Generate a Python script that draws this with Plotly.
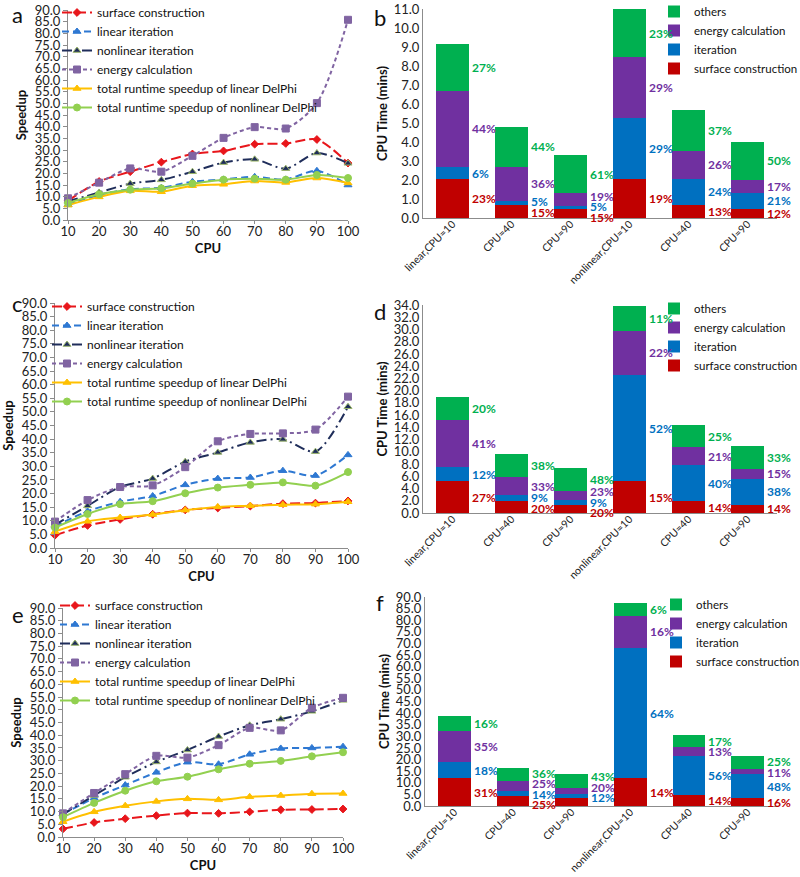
import plotly.graph_objects as go

W, H = 800, 877
FONT = "Lato"

# ---------------- data ----------------
cpu = [10, 20, 30, 40, 50, 60, 70, 80, 90, 100]
line_names = ["surface construction", "linear iteration", "nonlinear iteration",
              "energy calculation", "total runtime speedup of linear DelPhi",
              "total runtime speedup of nonlinear DelPhi"]

a_surface = [8.2, 16.5, 20.7, 24.8, 28.3, 29.6, 32.5, 32.8, 34.5, 24.4]
a_lin_iter = [6.5, 10.8, 13.2, 13.8, 16.4, 17.4, 18.5, 17.4, 21.1, 15.0]
a_nonlin_iter = [8.0, 11.8, 15.6, 17.2, 20.7, 24.6, 26.0, 22.0, 28.7, 24.3]
a_energy = [9.3, 16.0, 22.1, 20.7, 27.5, 35.2, 39.8, 39.2, 50.1, 85.8]
a_total_lin = [6.4, 9.9, 12.5, 12.1, 14.7, 15.3, 16.7, 16.1, 18.0, 15.9]
a_total_nonlin = [7.3, 11.0, 13.0, 13.6, 15.6, 17.3, 17.7, 17.3, 19.3, 18.0]

c_surface = [4.7, 8.3, 10.5, 12.4, 14.0, 14.7, 15.4, 16.3, 16.5, 17.3]
c_lin_iter = [8.0, 13.5, 17.0, 19.1, 23.2, 25.5, 25.9, 28.4, 26.6, 34.2]
c_nonlin_iter = [8.5, 15.5, 22.4, 25.5, 31.7, 35.1, 38.8, 39.9, 35.4, 51.9]
c_energy = [9.7, 17.6, 22.4, 23.0, 29.7, 39.2, 41.9, 42.1, 43.5, 55.6]
c_total_lin = [6.0, 9.8, 11.2, 12.3, 13.9, 15.1, 15.5, 15.9, 16.1, 17.0]
c_total_nonlin = [7.5, 12.5, 16.1, 17.2, 20.1, 22.2, 23.2, 24.1, 22.9, 27.9]

e_surface = [3.2, 5.7, 7.2, 8.4, 9.4, 9.3, 9.9, 10.7, 10.8, 11.0]
e_lin_iter = [9.0, 15.3, 20.4, 25.4, 29.4, 28.6, 32.5, 34.8, 35.0, 35.5]
e_nonlin_iter = [9.0, 16.3, 23.5, 29.5, 34.2, 39.5, 43.9, 46.3, 49.4, 53.7]
e_energy = [9.3, 17.3, 24.7, 31.9, 31.2, 36.1, 42.9, 41.9, 50.8, 54.7]
e_total_lin = [6.0, 9.9, 12.3, 14.0, 15.0, 14.6, 15.8, 16.3, 17.0, 17.1]
e_total_nonlin = [7.8, 13.4, 18.2, 21.9, 23.7, 26.6, 28.8, 29.9, 31.7, 33.3]

bar_categories = ["linear,CPU=10", "CPU=40", "CPU=90", "nonlinear,CPU=10", "CPU=40", "CPU=90"]
bar_names = ["surface construction", "iteration", "energy calculation", "others"]

b_surface = [2.07, 0.68, 0.47, 2.07, 0.67, 0.49]
b_iteration = [0.59, 0.23, 0.18, 3.18, 1.40, 0.82]
b_energy = [4.05, 1.77, 0.65, 3.21, 1.47, 0.69]
b_others = [2.47, 2.12, 1.99, 2.54, 2.13, 2.01]
b_pct_surface = ["23%", "15%", "15%", "19%", "13%", "12%"]
b_pct_iteration = ["6%", "5%", "5%", "29%", "24%", "21%"]
b_pct_energy = ["44%", "36%", "19%", "29%", "26%", "17%"]
b_pct_others = ["27%", "44%", "61%", "23%", "37%", "50%"]

d_surface = [5.17, 1.90, 1.36, 5.17, 1.90, 1.36]
d_iteration = [2.28, 0.98, 0.71, 17.41, 5.88, 4.24]
d_energy = [7.78, 3.05, 1.58, 7.18, 2.94, 1.64]
d_others = [3.81, 3.70, 3.64, 4.03, 3.64, 3.64]
d_pct_surface = ["27%", "20%", "20%", "15%", "14%", "14%"]
d_pct_iteration = ["12%", "9%", "9%", "52%", "40%", "38%"]
d_pct_energy = ["41%", "33%", "23%", "22%", "21%", "15%"]
d_pct_others = ["20%", "38%", "48%", "11%", "25%", "33%"]

f_surface = [11.9, 4.3, 3.3, 11.9, 4.6, 3.4]
f_iteration = [6.9, 2.3, 1.9, 56.3, 16.9, 10.2]
f_energy = [13.5, 4.0, 2.4, 13.8, 3.8, 2.3]
f_others = [6.3, 5.8, 6.0, 5.4, 5.1, 5.5]
f_pct_surface = ["31%", "25%", "25%", "14%", "14%", "16%"]
f_pct_iteration = ["18%", "14%", "12%", "64%", "56%", "48%"]
f_pct_energy = ["35%", "25%", "20%", "16%", "13%", "11%"]
f_pct_others = ["16%", "36%", "43%", "6%", "17%", "25%"]

# ---------------- styles ----------------
line_styles = [
    dict(color="#E8161B", dash="10px,4px", symbol="diamond", size=6, mline="#E8161B"),
    dict(color="#2E78D2", dash="7px,4px", symbol="triangle-up", size=7, mline="#2E78D2"),
    dict(color="#1F2D5A", dash="10px,4px,2px,4px", symbol="triangle-up", size=7, mline="#9BB56A"),
    dict(color="#8064A2", dash="4px,3px", symbol="square", size=7, mline="#8064A2"),
    dict(color="#FFC000", dash="solid", symbol="triangle-up", size=7, mline="#FFC000"),
    dict(color="#92D050", dash="solid", symbol="circle", size=7, mline="#92D050"),
]
bar_colors = ["#C00000", "#0070C0", "#7030A0", "#00B050"]


def px_x(p):
    return p / W


def px_y(p):
    return 1 - p / H


LEG_OFF = 15  # legend top -> first item centre, px

fig = go.Figure()

# panel geometry in page pixels: (x0, x1, ytop, ybottom)
line_panels = [
    ("", [a_surface, a_lin_iter, a_nonlin_iter, a_energy, a_total_lin, a_total_nonlin], (68, 348, 10, 220)),
    ("3", [c_surface, c_lin_iter, c_nonlin_iter, c_energy, c_total_lin, c_total_nonlin], (55, 348, 303, 548)),
    ("5", [e_surface, e_lin_iter, e_nonlin_iter, e_energy, e_total_lin, e_total_nonlin], (63, 343, 608, 837)),
]
line_legends = ["legend", "legend3", "legend5"]
# (legend left, first item centre)
line_legend_pos = [(57, 13), (47, 307), (55, 606)]

axis_font = dict(family=FONT, size=13, color="#222")
title_font = dict(family=FONT, size=13, color="#111", weight="bold")

for (sfx, series, (x0, x1, yt, yb)), lg, (lx, ly) in zip(line_panels, line_legends, line_legend_pos):
    for name, vals, st in zip(line_names, series, line_styles):
        fig.add_trace(go.Scatter(
            x=cpu, y=vals, name=name, mode="lines+markers",
            xaxis="x" + sfx, yaxis="y" + sfx, legend=lg, cliponaxis=False,
            line=dict(color=st["color"], width=2, dash=st["dash"], shape="spline", smoothing=0.8),
            marker=dict(symbol=st["symbol"], size=st["size"], color=st["color"],
                        line=dict(color=st["mline"], width=1)),
        ))
    fig.layout["xaxis" + sfx] = dict(
        domain=[px_x(x0), px_x(x1)], anchor="y" + sfx, range=[10, 100], automargin=False,
        tickvals=cpu, showline=True, linecolor="#8C8C8C", linewidth=1,
        ticks="outside", ticklen=3, tickcolor="#8C8C8C", showgrid=False, zeroline=False,
        ticklabelstandoff=-4,
        tickfont=dict(family=FONT, size=13, color="#222"),
        title=dict(text="CPU", font=title_font, standoff=6),
    )
    fig.layout["yaxis" + sfx] = dict(
        domain=[px_y(yb), px_y(yt)], anchor="x" + sfx, range=[0, 90], dtick=5, automargin=False,
        tickformat=".1f", showline=True, linecolor="#8C8C8C", linewidth=1,
        ticks="outside", ticklen=4, tickcolor="#8C8C8C", showgrid=False, zeroline=False,
        tickfont=axis_font, title=dict(text="Speedup", font=title_font, standoff=5),
    )
    fig.layout[lg] = dict(
        x=px_x(lx), y=px_y(ly - LEG_OFF), xanchor="left", yanchor="top",
        bgcolor="rgba(0,0,0,0)", font=dict(family=FONT, size=12, color="#111"),
        itemwidth=30, traceorder="normal",
    )

bar_panels = [
    ("2", [b_surface, b_iteration, b_energy, b_others],
     [b_pct_surface, b_pct_iteration, b_pct_energy, b_pct_others], (423, 777, 9, 218), 11, 1, (654, 12)),
    ("4", [d_surface, d_iteration, d_energy, d_others],
     [d_pct_surface, d_pct_iteration, d_pct_energy, d_pct_others], (423, 777, 305, 513), 34, 2, (654, 309)),
    ("6", [f_surface, f_iteration, f_energy, f_others],
     [f_pct_surface, f_pct_iteration, f_pct_energy, f_pct_others], (425, 777, 597, 806), 90, 5, (656, 605)),
]
bar_legends = ["legend2", "legend4", "legend6"]
xs = list(range(len(bar_categories)))


def spread(centers, gap):
    ys = list(centers)
    for _ in range(200):
        moved = False
        for j in range(len(ys) - 1):
            if ys[j + 1] - ys[j] < gap - 1e-9:
                m = (ys[j] + ys[j + 1]) / 2
                ys[j] = m - gap / 2
                ys[j + 1] = m + gap / 2
                moved = True
        if not moved:
            break
    return ys


annotations = []
for (sfx, series, pcts, (x0, x1, yt, yb), ymax, dt, (lx, ly)), lg in zip(bar_panels, bar_legends):
    for name, vals, col in zip(bar_names, series, bar_colors):
        fig.add_trace(go.Bar(
            x=xs, y=vals, name=name, xaxis="x" + sfx, yaxis="y" + sfx, legend=lg,
            marker=dict(color=col, line=dict(width=0)), width=0.56,
        ))
    fig.layout["xaxis" + sfx] = dict(
        domain=[px_x(x0), px_x(x1)], anchor="y" + sfx, range=[-0.5, 5.5], automargin=False,
        tickvals=xs, ticktext=bar_categories, tickangle=-45, ticklabelstandoff=-5,
        showline=True, linecolor="#8C8C8C", linewidth=1, ticks="", showgrid=False,
        zeroline=False, tickfont=dict(family=FONT, size=10.5, color="#222"),
    )
    fig.layout["yaxis" + sfx] = dict(
        domain=[px_y(yb), px_y(yt)], anchor="x" + sfx, range=[0, ymax], dtick=dt, automargin=False,
        tickformat=".1f", showline=True, linecolor="#8C8C8C", linewidth=1,
        ticks="", showgrid=False, zeroline=False, tickfont=axis_font,
        title=dict(text="CPU Time (mins)", font=title_font, standoff=3),
    )
    fig.layout[lg] = dict(
        x=px_x(lx), y=px_y(ly - LEG_OFF), xanchor="left", yanchor="top",
        bgcolor="rgba(0,0,0,0)", font=dict(family=FONT, size=11.5, color="#111"),
        itemwidth=30, traceorder="reversed",
    )
    # percentage labels beside each segment, de-overlapped
    units_per_px = ymax / (yb - yt)
    gap = 10.5 * units_per_px
    for i in xs:
        base = 0.0
        centers = []
        for vals in series:
            centers.append(base + vals[i] / 2)
            base += vals[i]
        ys = spread(centers, gap)
        for k, (yv, pct) in enumerate(zip(ys, pcts)):
            annotations.append(dict(
                x=i + 0.28, y=yv, xref="x" + sfx, yref="y" + sfx, text=pct[i],
                showarrow=False, xanchor="left", yanchor="middle", xshift=1,
                font=dict(family=FONT, size=12, color=bar_colors[k], weight="bold"),
            ))

panel_letters = [("a", 10, 15), ("b", 372, 18), ("c", 10, 303), ("d", 372, 312), ("e", 10, 614), ("f", 374, 602)]
for letter, lx, ly in panel_letters:
    annotations.append(dict(
        x=px_x(lx), y=px_y(ly), xref="paper", yref="paper", text=letter, showarrow=False,
        xanchor="left", yanchor="middle", font=dict(family=FONT, size=22, color="#111"),
    ))

fig.update_layout(
    width=W, height=H, margin=dict(l=0, r=0, t=0, b=0, autoexpand=False),
    paper_bgcolor="white", plot_bgcolor="white", barmode="stack",
    annotations=annotations, font=dict(family=FONT),
)

# drop the browser's default 8px body margin so the 800x877 figure fills the window
fig.write_html(
    "out.html",
    config={"displayModeBar": False},
    post_script="document.body.style.margin='0';document.body.style.overflow='hidden';",
)
